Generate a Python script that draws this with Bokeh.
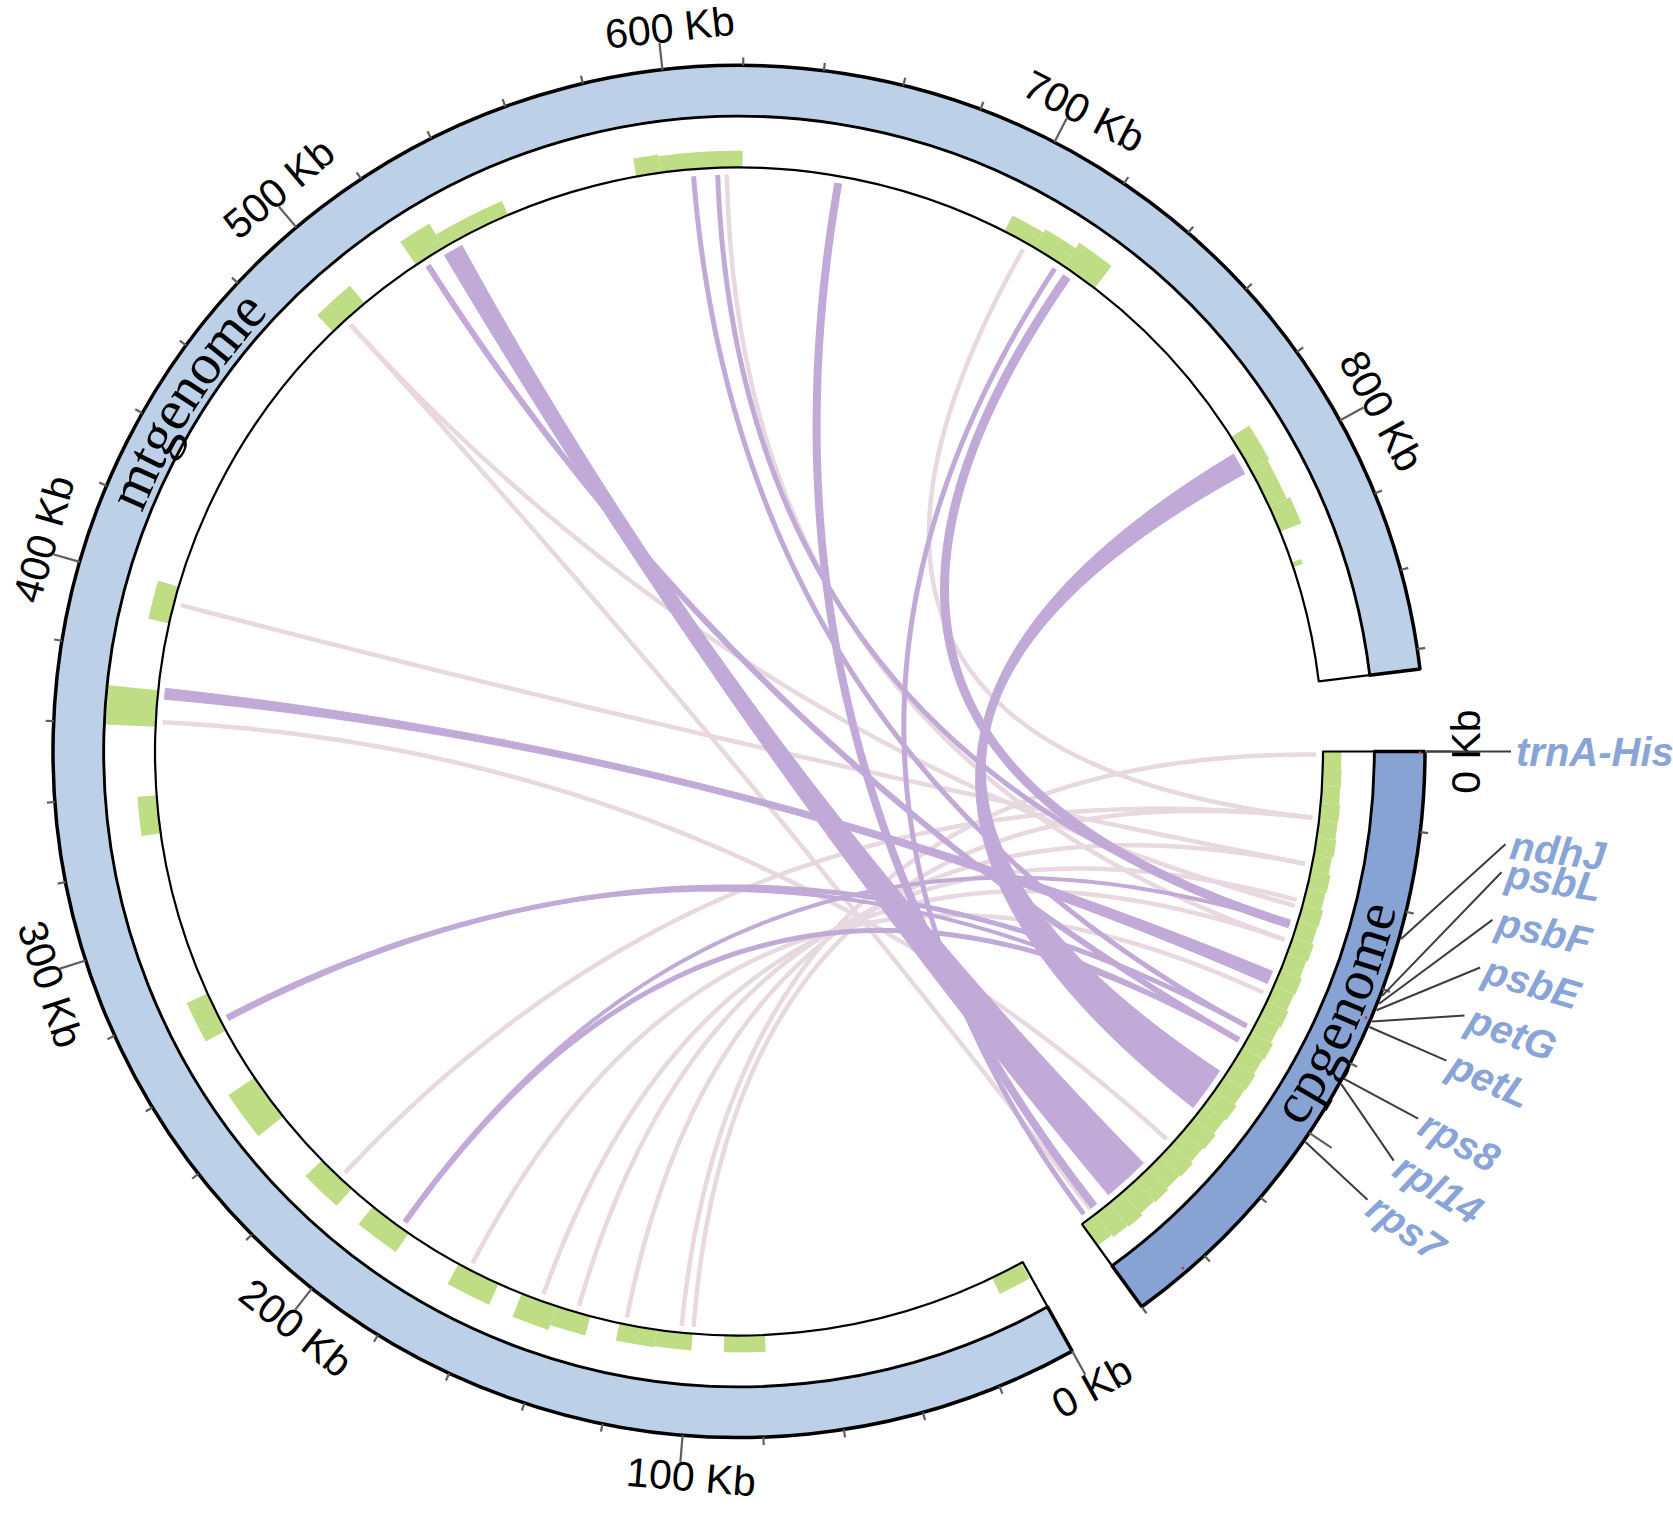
import numpy as np
from bokeh.plotting import figure
from bokeh.models import Range1d
from bokeh.embed import file_html
from bokeh.resources import INLINE
from bokeh.core.properties import value

# ---------------- data ----------------
sector_names = ["cpgenome", "mtgenome"]
cp_len_kb = 160.0
mt_len_kb = 865.0

mt_tick_kb = [0, 100, 200, 300, 400, 500, 600, 700, 800]
mt_tick_labels = ["0 Kb", "100 Kb", "200 Kb", "300 Kb", "400 Kb", "500 Kb", "600 Kb", "700 Kb", "800 Kb"]
cp_tick_kb = [0]
cp_tick_labels = ["0 Kb"]
cp_major_kb = [0, 100]

# green histogram track on the mtgenome (kb start, kb end, relative height)
mt_bar_start = [0.5, 78.5, 99.5, 110.0, 129.7, 140.0, 158.0, 188.0, 209.0, 238.0, 268.0, 328.7, 359.7,
                390.0, 488.6, 519.5, 529.0, 589.0, 596.0, 699.0, 709.0, 719.0, 789.0, 800.0, 812.0, 829.5]
mt_bar_end = [10.0, 90.3, 110.0, 121.0, 140.0, 150.7, 171.0, 201.0, 221.0, 252.0, 280.0, 339.8, 370.3,
              401.0, 500.9, 529.0, 550.0, 596.0, 620.0, 709.0, 719.0, 730.0, 800.0, 812.0, 820.0, 831.0]
mt_bar_h = [0.35, 0.33, 0.33, 0.35, 0.39, 0.49, 0.45, 0.45, 0.45, 0.62, 0.45, 0.38, 0.97,
            0.42, 0.45, 0.55, 0.30, 0.36, 0.33, 0.35, 0.42, 0.55, 0.42, 0.38, 0.45, 0.20]

# green histogram track on the cpgenome (5 kb bins)
cp_bin_kb = 5.0
cp_hist_h = [0.36, 0.37, 0.36, 0.38, 0.37, 0.39, 0.36, 0.40, 0.38, 0.42, 0.40, 0.44, 0.41, 0.45, 0.43, 0.47,
             0.44, 0.49, 0.46, 0.50, 0.48, 0.53, 0.50, 0.55, 0.52, 0.57, 0.54, 0.58, 0.55, 0.60, 0.57, 0.52]

# wide links (ribbons): mt range -> cp range (kb)
rib_mt_start = [528.1, 793.6, 367.9]
rib_mt_end = [534.0, 800.2, 371.1]
rib_cp_start = [134.7, 99.5, 66.3]
rib_cp_end = [148.6, 112.8, 70.2]

# narrow purple links: mt kb -> cp kb, stroke width
pl_mt = [522.4, 605.6, 612.7, 648.3, 717.2, 721.5, 270.8, 271.5, 190.6, 191.0]
pl_cp = [88.8, 84.1, 51.5, 154.0, 157.8, 51.5, 84.1, 88.8, 88.8, 51.5]
pl_w = [6, 5, 5, 8, 5, 9, 5, 4, 5, 4]

# pale pink links: mt kb -> cp kb
pk_mt = [493.7, 493.7, 396.0, 361.1, 615.4, 706.3, 213.6, 167.5, 144.7, 133.7, 119.2, 102.9, 99.4]
pk_cp = [45.9, 155.4, 33.2, 124.9, 56.3, 19.5, 19.5, 73.1, 56.3, 44.1, 33.2, 0.9, 19.5]

# cp gene labels
genes = ["trnA-His", "ndhJ", "psbL", "psbF", "psbE", "petG", "petL", "rps8", "rpl14", "rps7"]
gene_kb = [0.0, 46.8, 61.6, 63.7, 65.4, 68.4, 69.9, 84.1, 85.6, 102.4]
gene_lab_deg = [0.0, 6.9, 9.0, 12.6, 16.25, 20.0, 23.6, 28.4, 32.0, 35.5]   # label spreading (layout)
cp_marks_kb = [0.3, 68.1, 146.0]

# ---------------- layout ----------------
W, H = 1673, 1514
CXs, CYs = 738.5, 751.0         # centre in page pixels
R_OUT, R_MID, R_IN, R_LINK = 686.0, 635.0, 584.0, 577.0
GAP = 6.9
DEG = (360.0 - 2 * GAP) / (cp_len_kb + mt_len_kb)
CP0 = 0.0
MT0 = cp_len_kb * DEG + GAP

MT_BLUE = "#BCD0E8"
CP_BLUE = "#86A3D3"
GREEN = "#BFDD85"
PURPLE = "#C1AAD8"
PINK = "#E8D8E0"
GENE_COL = "#89A4D7"


def cp_a(kb):
    return CP0 + np.asarray(kb, dtype=float) * DEG


def mt_a(kb):
    return MT0 + np.asarray(kb, dtype=float) * DEG


def xy(theta, r):
    t = np.radians(np.asarray(theta, dtype=float))
    return CXs + r * np.cos(t), H - (CYs + r * np.sin(t))


CX, CY = xy(0.0, 0.0)

p = figure(width=W, height=H, x_range=Range1d(0, W), y_range=Range1d(0, H),
           output_backend="svg", toolbar_location=None, min_border=0,
           x_axis_type=None, y_axis_type=None)
p.grid.visible = False
p.outline_line_color = None


def wedge(t1, t2, r0, r1, **kw):
    t1 = np.atleast_1d(np.asarray(t1, dtype=float))
    t2 = np.atleast_1d(np.asarray(t2, dtype=float))
    p.annular_wedge(x=CX, y=CY, inner_radius=r0, outer_radius=r1,
                    start_angle=list(np.radians(-t2)), end_angle=list(np.radians(-t1)),
                    direction="anticlock", **kw)


mt_s, mt_e = mt_a(0), mt_a(mt_len_kb)
cp_s, cp_e = cp_a(0), cp_a(cp_len_kb)

# ideogram ring
wedge(mt_s, mt_e, R_MID, R_OUT, fill_color=MT_BLUE, line_color="black", line_width=3.5)
wedge(cp_s, cp_e, R_MID, R_OUT, fill_color=CP_BLUE, line_color="black", line_width=3.5)

# histogram track background
wedge([mt_s, cp_s], [mt_e, cp_e], R_IN, R_MID, fill_color="white", line_color=None)

# green bars
hh = R_MID - R_IN
for s, e, h in zip(mt_bar_start, mt_bar_end, mt_bar_h):
    wedge(mt_a(s), mt_a(e), R_IN, R_IN + h * hh, fill_color=GREEN, line_color=None)
for i, h in enumerate(cp_hist_h):
    s = i * cp_bin_kb
    e = min((i + 1) * cp_bin_kb, cp_len_kb)
    wedge(cp_a(s), cp_a(e), R_IN, R_IN + h * hh, fill_color=GREEN, line_color=None)

# track outline
wedge(mt_s, mt_e, R_IN, R_MID, fill_color=None, line_color="black", line_width=2.2)
wedge(cp_s, cp_e, R_IN, R_MID, fill_color=None, line_color="black", line_width=2.2)


# ---------------- links ----------------
def bez(ta, tb, n=90):
    x0, y0 = xy(ta, R_LINK)
    x2, y2 = xy(tb, R_LINK)
    s = np.linspace(0, 1, n)
    x = (1 - s) ** 2 * x0 + 2 * (1 - s) * s * CX + s ** 2 * x2
    y = (1 - s) ** 2 * y0 + 2 * (1 - s) * s * CY + s ** 2 * y2
    return x, y


def arc(t1, t2, n=20):
    return xy(np.linspace(t1, t2, n), R_LINK)


# pink
xs, ys = [], []
for m, c in zip(pk_mt, pk_cp):
    x, y = bez(mt_a(m), cp_a(c))
    xs.append(list(x)); ys.append(list(y))
p.multi_line(xs=xs, ys=ys, line_color=PINK, line_width=4.5)

# purple narrow
xs, ys = [], []
for m, c in zip(pl_mt, pl_cp):
    x, y = bez(mt_a(m), cp_a(c))
    xs.append(list(x)); ys.append(list(y))
p.multi_line(xs=xs, ys=ys, line_color=PURPLE, line_width=pl_w)

# purple ribbons
pxs, pys = [], []
for a1, a2, b1, b2 in zip(rib_mt_start, rib_mt_end, rib_cp_start, rib_cp_end):
    ta1, ta2, tb1, tb2 = mt_a(a1), mt_a(a2), cp_a(b1), cp_a(b2)
    parts = [arc(tb1, tb2), bez(tb2, ta1), arc(ta1, ta2), bez(ta2, tb1)]
    pxs.append(list(np.concatenate([q[0] for q in parts])))
    pys.append(list(np.concatenate([q[1] for q in parts])))
p.patches(xs=pxs, ys=pys, fill_color=PURPLE, line_color=PURPLE, line_width=1)

# ---------------- ticks ----------------
x0s, y0s, x1s, y1s = [], [], [], []
for kb in range(0, int(mt_len_kb) + 1, 20):
    L = 27 if kb % 100 == 0 else 8
    a, b = xy(mt_a(kb), R_OUT), xy(mt_a(kb), R_OUT + L)
    x0s.append(a[0]); y0s.append(a[1]); x1s.append(b[0]); y1s.append(b[1])
for kb in range(0, int(cp_len_kb) + 1, 20):
    L = 27 if kb in cp_major_kb else 8
    a, b = xy(cp_a(kb), R_OUT), xy(cp_a(kb), R_OUT + L)
    x0s.append(a[0]); y0s.append(a[1]); x1s.append(b[0]); y1s.append(b[1])
p.segment(x0=x0s, y0=y0s, x1=x1s, y1=y1s, line_color="#5f5f5f", line_width=2.2)


def tangent_angle(th):
    th = np.asarray(th, dtype=float) % 360.0
    t = np.radians(th)
    upper = (th > 180.0) & (th < 360.0)
    return np.where(upper, np.arctan2(-np.cos(t), -np.sin(t)), np.arctan2(np.cos(t), np.sin(t)))


lab_th = np.array(list(mt_a(mt_tick_kb)) + list(cp_a(cp_tick_kb)))
lab_tx = mt_tick_labels + cp_tick_labels
lab_ang = tangent_angle(lab_th)
lx, ly = xy(lab_th, 727.0)
shift = np.array([12.0 if len(s) > 4 else 0.0 for s in lab_tx])   # labels sit a bit along reading direction
lx = lx + shift * np.cos(lab_ang)
ly = ly + shift * np.sin(lab_ang)
p.text(x=list(lx), y=list(ly), text=lab_tx, angle=list(lab_ang),
       text_align="center", text_baseline="middle", text_font=value("Liberation Sans"),
       text_font_size="41px", text_color="black")

# ---------------- gene labels ----------------
gs = cp_a(gene_kb)
a0 = xy(gs, R_OUT + 2)
a1 = xy(np.array(gene_lab_deg), 772.0)
p.segment(x0=list(a0[0]), y0=list(a0[1]), x1=list(a1[0]), y1=list(a1[1]),
          line_color="#3c3c3c", line_width=2)
tp = xy(np.array(gene_lab_deg), 777.0)
p.text(x=list(tp[0]), y=list(tp[1]), text=genes, angle=list(np.radians(-np.array(gene_lab_deg))),
       text_align="left", text_baseline="middle", text_font=value("Liberation Sans"),
       text_font_style="bold italic", text_font_size="40px", text_color=GENE_COL)

mk = xy(cp_a(cp_marks_kb), 681.0)
p.scatter(x=list(mk[0]), y=list(mk[1]), size=3, color="#e0304a", line_color=None)

# ---------------- sector names (bent along the ring) ----------------
serif_w = {"c": 0.444, "p": 0.5, "g": 0.5, "e": 0.444, "n": 0.5, "o": 0.5, "m": 0.778, "t": 0.278}


def bent_text(label, center_deg, r_mid, fs, upper):
    ws = np.array([serif_w[ch] for ch in label]) * fs
    cum = np.cumsum(ws) - ws / 2 - ws.sum() / 2
    d = np.degrees(cum / r_mid)
    th = center_deg + d if upper else center_deg - d
    t = np.radians(th)
    ang = np.arctan2(-np.cos(t), -np.sin(t)) if upper else np.arctan2(np.cos(t), np.sin(t))
    px, py = xy(th, r_mid)
    p.text(x=list(px), y=list(py), text=list(label), angle=list(ang),
           text_align="center", text_baseline="middle",
           text_font=value("Liberation Serif"), text_font_size=f"{fs}px", text_color="black")


bent_text(sector_names[1], 212.4, 662.0, 58, True)
bent_text(sector_names[0], 23.6, 657.0, 57, False)

open("out.html", "w").write(file_html(p, INLINE))
